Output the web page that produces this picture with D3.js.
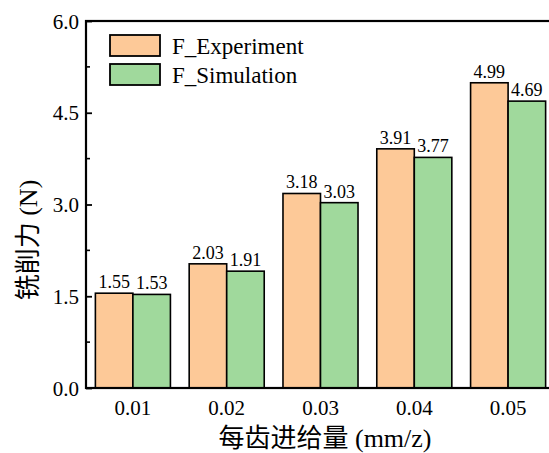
<!DOCTYPE html>
<html>
<head>
<meta charset="utf-8">
<script src="https://cdn.jsdelivr.net/npm/d3@7"></script>
<style>
  body { margin: 0; background: #fff; }
  svg { display: block; }
</style>
</head>
<body>
<svg id="chart" width="549" height="453"></svg>
<script>
// feed per tooth (mm/z)
let feeds = ['0.01', '0.02', '0.03', '0.04', '0.05']
let seriesNames = ['F_Experiment', 'F_Simulation']
let experiment = [1.55, 2.03, 3.18, 3.91, 4.99]
let simulation = [1.53, 1.91, 3.03, 3.77, 4.69]
let yTicks = [0.0, 1.5, 3.0, 4.5, 6.0]
let colors = ['#fdc998', '#a0d99c']

let serif = "'Times New Roman', 'Liberation Serif', 'DejaVu Serif', serif"
let cjk = "'Times New Roman', 'Liberation Serif', 'Noto Sans CJK SC', serif"

let svg = d3.select('#chart')

let marginLeft = 86, marginTop = 21, plotW = 469, plotH = 367

let g = svg.append('g')
    .attr('transform', 'translate(' + marginLeft + ',' + marginTop + ')')

let x0 = d3.scaleBand()
    .domain(feeds)
    .range([0, plotW])

let x1 = d3.scaleBand()
    .domain(seriesNames)
    .range([0, x0.bandwidth()])
    .paddingInner(0)
    .paddingOuter(0.25)

let y = d3.scaleLinear()
    .domain([0, 6])
    .range([plotH, 0])

let rows = feeds.map((f, i) => {
    return { feed: f, values: [experiment[i], simulation[i]] }
})

// bars
let groups = g.selectAll('.grp')
    .data(rows)
    .enter()
    .append('g')
    .attr('class', 'grp')
    .attr('transform', (d) => 'translate(' + x0(d.feed) + ',0)')

groups.selectAll('rect')
    .data((d) => d.values.map((v, j) => ({ name: seriesNames[j], value: v, j: j })))
    .enter()
    .append('rect')
    .attr('x', (d) => x1(d.name))
    .attr('y', (d) => y(d.value))
    .attr('width', x1.bandwidth())
    .attr('height', (d) => plotH - y(d.value))
    .attr('fill', (d) => colors[d.j])
    .attr('stroke', '#000')
    .attr('stroke-width', 1.6)

groups.selectAll('.val')
    .data((d) => d.values.map((v, j) => ({ name: seriesNames[j], value: v })))
    .enter()
    .append('text')
    .attr('class', 'val')
    .attr('x', (d) => x1(d.name) + x1.bandwidth() / 2)
    .attr('y', (d) => y(d.value) - 5)
    .attr('text-anchor', 'middle')
    .style('font-family', serif)
    .style('font-size', '18px')
    .text((d) => d.value.toFixed(2))

// y axis with inward ticks
let yAxis = d3.axisLeft(y)
    .tickValues(yTicks)
    .tickSize(-6)
    .tickPadding(7)
    .tickFormat(d3.format('.1f'))

let yg = g.append('g').call(yAxis)
yg.select('.domain').remove()
yg.selectAll('.tick line').attr('stroke-width', 1.8)
yg.selectAll('.tick text')
    .style('font-family', serif)
    .style('font-size', '21px')
    .attr('dy', '0.34em')

let minor = d3.range(0.75, 6, 1.5)
g.selectAll('.minor')
    .data(minor)
    .enter()
    .append('line')
    .attr('x1', 0)
    .attr('x2', 4)
    .attr('y1', (d) => y(d))
    .attr('y2', (d) => y(d))
    .attr('stroke', '#000')
    .attr('stroke-width', 1.6)

// x tick labels
g.selectAll('.xlab')
    .data(feeds)
    .enter()
    .append('text')
    .attr('x', (d) => x0(d) + x0.bandwidth() / 2)
    .attr('y', plotH + 27)
    .attr('text-anchor', 'middle')
    .style('font-family', serif)
    .style('font-size', '21px')
    .text((d) => d)

// frame
g.append('rect')
    .attr('x', 0)
    .attr('y', 0)
    .attr('width', plotW)
    .attr('height', plotH)
    .attr('fill', 'none')
    .attr('stroke', '#000')
    .attr('stroke-width', 2.2)

// axis titles
svg.append('text')
    .attr('x', 325)
    .attr('y', 447)
    .attr('text-anchor', 'middle')
    .style('font-family', cjk)
    .style('font-size', '26px')
    .text('每齿进给量 (mm/z)')

svg.append('text')
    .attr('transform', 'translate(37,240) rotate(-90)')
    .attr('text-anchor', 'middle')
    .style('font-family', cjk)
    .style('font-size', '26px')
    .text('铣削力 (N)')

// legend
let legend = svg.append('g')
    .attr('transform', 'translate(110,35)')

seriesNames.forEach((name, i) => {
    legend.append('rect')
        .attr('x', 0)
        .attr('y', i * 29)
        .attr('width', 50)
        .attr('height', 21)
        .attr('fill', colors[i])
        .attr('stroke', '#000')
        .attr('stroke-width', 1.8)
    legend.append('text')
        .attr('x', 62)
        .attr('y', i * 29 + 19)
        .style('font-family', serif)
        .style('font-size', '23px')
        .text(name)
})
</script>
</body>
</html>
